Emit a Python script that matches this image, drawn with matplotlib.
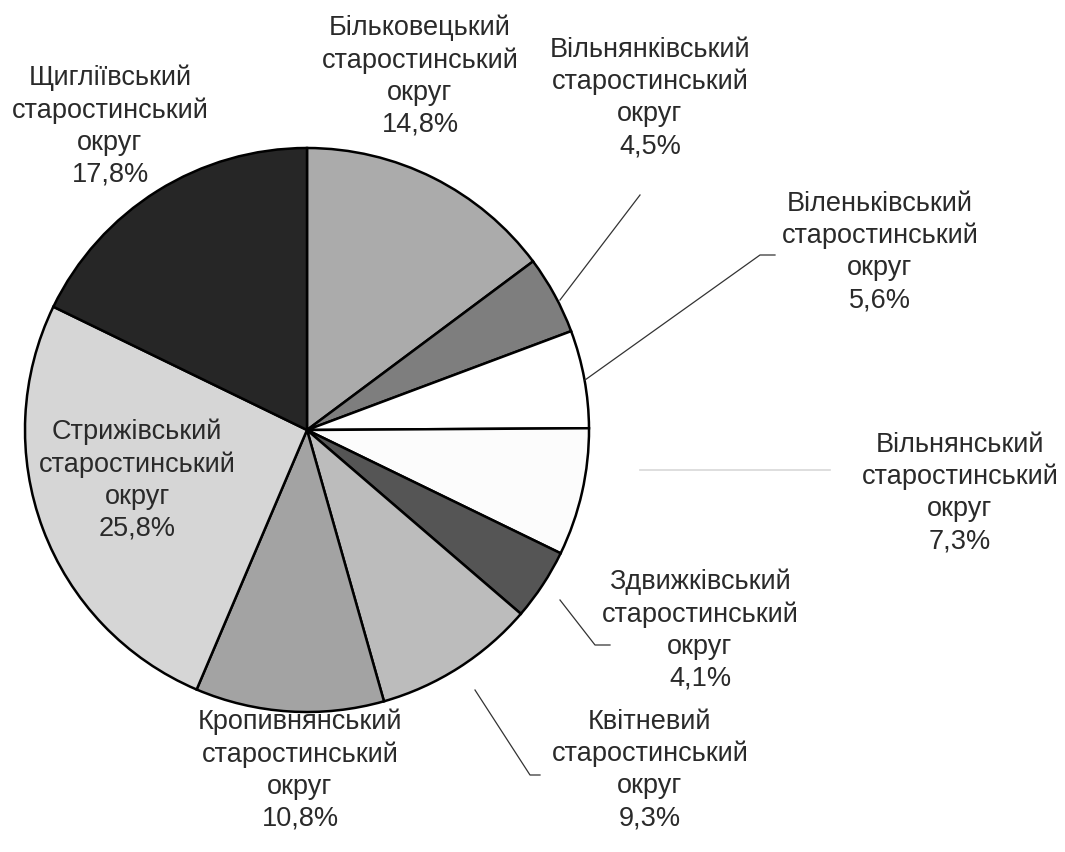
import matplotlib
matplotlib.use("Agg")
import matplotlib.pyplot as plt

# дані з діаграми (частки старостинських округів, %)
names = ["Більковецький", "Вільнянківський", "Віленьківський", "Вільнянський",
         "Здвижківський", "Квітневий", "Кропивнянський", "Стрижівський", "Щигліївський"]
shares = [14.8, 4.5, 5.6, 7.3, 4.1, 9.3, 10.8, 25.8, 17.8]
colors = ["#ababab", "#7e7e7e", "#ffffff", "#fcfcfc", "#555555",
          "#bcbcbc", "#a3a3a3", "#d6d6d6", "#262626"]

W, H = 1065, 852
fig = plt.figure(figsize=(W / 100, H / 100), dpi=100)
ax = fig.add_axes([0, 0, 1, 1])

cx, cy, r = 307, H - 430, 282
ax.pie(shares, colors=colors, startangle=90, counterclock=False,
       center=(cx, cy), radius=r, frame=True,
       wedgeprops=dict(edgecolor="black", linewidth=1.8))
ax.set_xlim(0, W)
ax.set_ylim(0, H)
ax.set_aspect("equal")
ax.axis("off")

# позиції підписів (центр блоку тексту, пікселі зображення)
label_pos = [(420, 76), (650, 98), (880, 252), (960, 493), (700, 630),
             (650, 770), (300, 770), (137, 480), (110, 126)]
for name, val, (x, y) in zip(names, shares, label_pos):
    txt = f"{name}\nстаростинський\nокруг\n{val:.1f}%".replace(".", ",")
    ax.text(x, H - y, txt, ha="center", va="center", fontsize=19.5,
            family=["Liberation Sans", "DejaVu Sans"], color="#2a2a2a",
            linespacing=1.3)

# лінії-виноски
leaders = [
    [(560, 300), (640, 195)],
    [(585, 380), (760, 255), (775, 255)],
    [(560, 600), (595, 645), (610, 645)],
    [(475, 690), (530, 775), (540, 775)],
]
for pts in leaders:
    xs = [p[0] for p in pts]
    ys = [H - p[1] for p in pts]
    ax.plot(xs, ys, color="#333333", linewidth=0.9)
ax.plot([640, 830], [H - 470, H - 470], color="#d8d8d8", linewidth=1.2)

fig.savefig("out.png", dpi=100, facecolor="white")
